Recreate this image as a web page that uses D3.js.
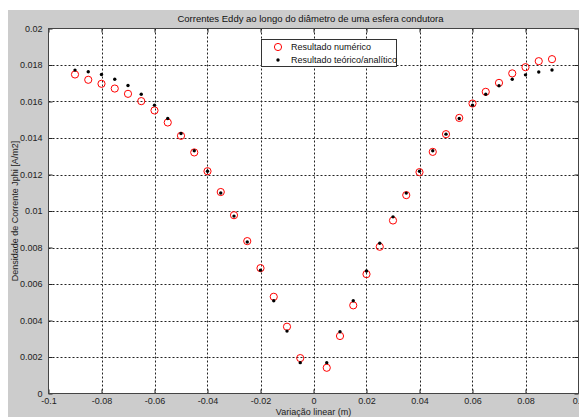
<!DOCTYPE html>
<html><head><meta charset="utf-8">
<script src="https://cdn.jsdelivr.net/npm/d3@7"></script>
<style>body{margin:0;background:#fff}svg{display:block}text{font-family:"Liberation Sans",Arial,sans-serif}</style>
</head><body><svg id="c" width="579" height="417"></svg>
<script>
const xValues = [-0.09,-0.085,-0.08,-0.075,-0.07,-0.065,-0.06,-0.055,-0.05,-0.045,-0.04,-0.035,-0.03,-0.025,-0.02,-0.015,-0.01,-0.005,
  0.005,0.01,0.015,0.02,0.025,0.03,0.035,0.04,0.045,0.05,0.055,0.06,0.065,0.07,0.075,0.08,0.085,0.09];
const numerico = [0.01748,0.01719,0.01697,0.01671,0.01642,0.01602,0.01551,0.01485,0.01412,0.01321,0.01218,0.01104,0.00977,0.00835,0.00687,0.0053,0.00366,0.00194,
  0.00141,0.00315,0.00483,0.00654,0.00804,0.00948,0.01087,0.01213,0.01324,0.01421,0.0151,0.01589,0.01653,0.01702,0.01754,0.01788,0.01821,0.01832];
const analitico = [0.01772,0.01763,0.01748,0.01722,0.01688,0.0164,0.0158,0.01507,0.01425,0.0133,0.01218,0.01099,0.00972,0.0083,0.00676,0.00508,0.00342,0.00169,
  0.00169,0.00338,0.00508,0.00671,0.00823,0.00968,0.01098,0.01218,0.0133,0.01421,0.01507,0.0158,0.0164,0.01686,0.01722,0.01746,0.01762,0.01773];
const xTicks = [-0.1,-0.08,-0.06,-0.04,-0.02,0,0.02,0.04,0.06,0.08,0.1];
const yTicks = [0,0.002,0.004,0.006,0.008,0.01,0.012,0.014,0.016,0.018,0.02];
const xTickLabels = ["-0.1","-0.08","-0.06","-0.04","-0.02","0","0.02","0.04","0.06","0.08","0.1"];
const yTickLabels = ["0","0.002","0.004","0.006","0.008","0.01","0.012","0.014","0.016","0.018","0.02"];
const titleText = "Correntes Eddy ao longo do diâmetro de uma esfera condutora";
const xLabel = "Variação linear (m)";
const yLabel = "Densidade de Corrente Jphi [A/m2]";
const legendLabels = ["Resultado numérico","Resultado teórico/analítico"];

const svg = d3.select("#c");
const L=48.5, R=578.5, T=28.5, B=393.5;
const x = d3.scaleLinear().domain([-0.1,0.1]).range([L,R]);
const y = d3.scaleLinear().domain([0,0.02]).range([B,T]);

svg.append("rect").attr("x",8).attr("y",10).attr("width",571).attr("height",407).attr("fill","#cccccc");
svg.append("rect").attr("x",L).attr("y",T).attr("width",R-L).attr("height",B-T).attr("fill","#fff");

// grid
const g = svg.append("g");
g.selectAll(".gx").data(xTicks.slice(1,-1)).join("line")
  .attr("x1",d=>Math.round(x(d))+0.5).attr("x2",d=>Math.round(x(d))+0.5).attr("y1",T).attr("y2",B)
  .attr("stroke","#222").attr("stroke-dasharray","2,2");
g.selectAll(".gy").data(yTicks.slice(1,-1)).join("line")
  .attr("y1",d=>Math.round(y(d))+0.5).attr("y2",d=>Math.round(y(d))+0.5).attr("x1",L).attr("x2",R)
  .attr("stroke","#222").attr("stroke-dasharray","2,2");

// axes via d3
const xAxis = d3.axisBottom(x).tickValues(xTicks).tickFormat((d,i)=>xTickLabels[i]).tickSizeInner(-4).tickSizeOuter(0).tickPadding(4);
const yAxis = d3.axisLeft(y).tickValues(yTicks).tickFormat((d,i)=>yTickLabels[i]).tickSizeInner(-4).tickSizeOuter(0).tickPadding(6);
const gx = svg.append("g").attr("transform",`translate(0,${B})`).call(xAxis);
const gy = svg.append("g").attr("transform",`translate(${L},0)`).call(yAxis);
[gx,gy].forEach(a=>{a.select(".domain").remove();a.selectAll("line").attr("stroke","#222");
  a.selectAll("text").attr("font-size",9).attr("fill","#222");});
// top/right ticks
svg.append("g").attr("transform",`translate(0,${T})`).call(d3.axisTop(x).tickValues(xTicks).tickFormat("").tickSizeInner(-4).tickSizeOuter(0))
  .call(a=>{a.select(".domain").remove();a.selectAll("line").attr("stroke","#222");});
svg.append("g").attr("transform",`translate(${R},0)`).call(d3.axisRight(y).tickValues(yTicks).tickFormat("").tickSizeInner(-4).tickSizeOuter(0))
  .call(a=>{a.select(".domain").remove();a.selectAll("line").attr("stroke","#222");});
gy.selectAll("text").attr("dy","0.32em");
gx.selectAll("text").attr("dy","0.71em");

svg.append("rect").attr("x",L).attr("y",T).attr("width",R-L).attr("height",B-T).attr("fill","none").attr("stroke","#444");

// data
const num = xValues.map((v,i)=>[v,numerico[i]]);
const ana = xValues.map((v,i)=>[v,analitico[i]]);
svg.append("g").selectAll("circle").data(num).join("circle")
  .attr("cx",d=>x(d[0])).attr("cy",d=>y(d[1])).attr("r",3.6).attr("fill","none").attr("stroke","#ff0000").attr("stroke-width",1);
svg.append("g").selectAll("circle").data(ana).join("circle")
  .attr("cx",d=>x(d[0])).attr("cy",d=>y(d[1])).attr("r",1.7).attr("fill","#000");

// titles
svg.append("text").attr("x",(L+R)/2-3).attr("y",22).attr("text-anchor","middle").attr("font-size",9.5).attr("fill","#111").text(titleText);
svg.append("text").attr("x",(L+R)/2).attr("y",414.5).attr("text-anchor","middle").attr("font-size",9).attr("fill","#222").text(xLabel);
svg.append("text").attr("transform",`translate(18,${(T+B)/2}) rotate(-90)`).attr("text-anchor","middle").attr("font-size",9).attr("fill","#222").text(yLabel);

// legend
const lg = svg.append("g");
lg.append("rect").attr("x",261.5).attr("y",39.5).attr("width",135).attr("height",27).attr("fill","#fff").attr("stroke","#333");
lg.append("circle").attr("cx",278).attr("cy",47).attr("r",3.6).attr("fill","none").attr("stroke","#ff0000");
lg.append("circle").attr("cx",278).attr("cy",60).attr("r",1.7).attr("fill","#000");
lg.append("text").attr("x",291).attr("y",50).attr("font-size",9).attr("fill","#111").text(legendLabels[0]);
lg.append("text").attr("x",291).attr("y",63).attr("font-size",9).attr("fill","#111").text(legendLabels[1]);
</script></body></html>
